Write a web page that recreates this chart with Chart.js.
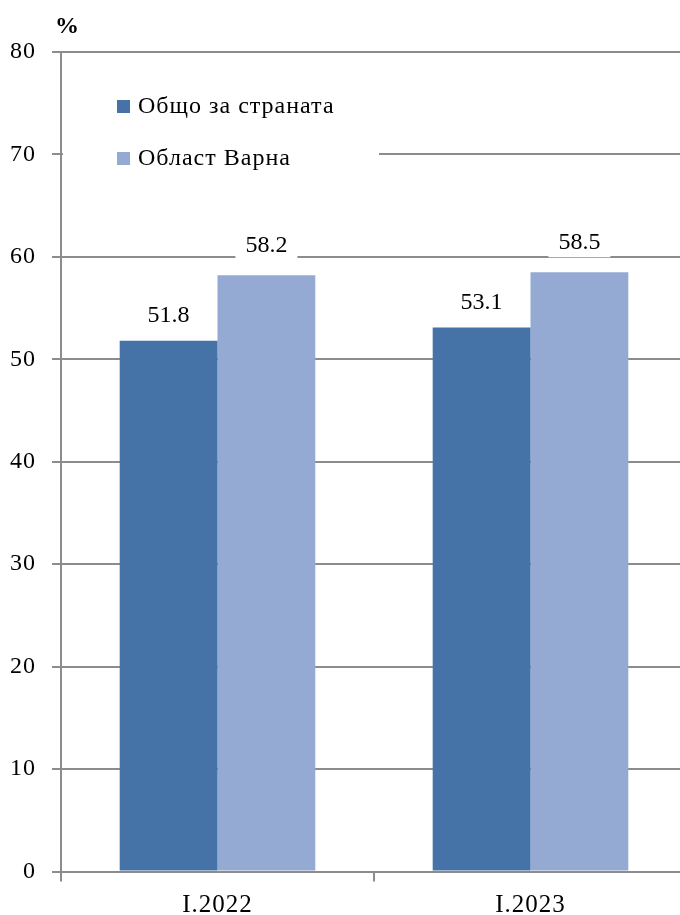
<!DOCTYPE html>
<html>
<head>
    <title>Bar</title>
    <script src="https://cdn.jsdelivr.net/npm/chart.js@4.4.0/dist/chart.umd.min.js"></script>
    <style>
        html, body { margin: 0; padding: 0; background: #fff; overflow: hidden; }
        #wrap { position: relative; width: 688px; height: 915px; }
        #unit { position: absolute; left: 55px; top: 12px; font: bold 24px "Liberation Serif", serif; }
    </style>
</head>
<body>
    <div id="wrap">
        <canvas id="myChart" width="688" height="915"></canvas>
        <div id="unit">%</div>
    </div>
    <script>
        var labels = ['I.2022', 'I.2023'];
        var country = [51.8, 53.1];
        var varna = [58.2, 58.5];
        var seriesNames = ['Общо за страната', 'Област Варна'];
        var yTicks = [0, 10, 20, 30, 40, 50, 60, 70, 80];

        var gridColor = '#8c8c8c';
        var serif = '"Liberation Serif", "Times New Roman", serif';

        // axis text a bit wider, like the original
        var spacing = {
            id: 'spacing',
            beforeDraw: function (chart) { chart.ctx.letterSpacing = '1px'; },
            beforeDatasetsDraw: function (chart) { chart.ctx.letterSpacing = '0px'; }
        };

        // value labels with white box over gridlines
        var valueLabels = {
            id: 'valueLabels',
            afterDatasetsDraw: function (chart) {
                var ctx = chart.ctx;
                ctx.save();
                ctx.font = '24px ' + serif;
                ctx.textAlign = 'center';
                ctx.textBaseline = 'middle';
                chart.data.datasets.forEach(function (ds, di) {
                    var meta = chart.getDatasetMeta(di);
                    var off = di == 0 ? 25 : 30;
                    meta.data.forEach(function (bar, i) {
                        var txt = ds.data[i].toFixed(1);
                        var w = ctx.measureText(txt).width + 20;
                        var y = bar.y - off;
                        ctx.fillStyle = '#fff';
                        ctx.fillRect(bar.x - w / 2, y - 15, w, 30);
                        ctx.fillStyle = '#000';
                        ctx.fillText(txt, bar.x, y);
                    });
                });
                ctx.restore();
            }
        };

        // legend inside the plot
        var innerLegend = {
            id: 'innerLegend',
            afterDraw: function (chart) {
                var ctx = chart.ctx;
                var a = chart.chartArea;
                ctx.save();
                ctx.fillStyle = '#fff';
                ctx.fillRect(a.left + 2, a.top + 25, 316, 110);
                ctx.font = '24px ' + serif;
                ctx.letterSpacing = '1px';
                ctx.textBaseline = 'middle';
                chart.data.datasets.forEach(function (ds, i) {
                    var y = a.top + 54 + i * 52;
                    ctx.fillStyle = ds.backgroundColor;
                    ctx.fillRect(117, y - 6, 13, 13);
                    ctx.fillStyle = '#000';
                    ctx.fillText(ds.label, 138, y + 1);
                });
                ctx.restore();
            }
        };

        var ctx = document.getElementById('myChart').getContext('2d');
        var chart = new Chart(ctx, {
            type: 'bar',
            data: {
                labels: labels,
                datasets: [{
                    label: seriesNames[0],
                    data: country,
                    backgroundColor: '#4573a7',
                    barPercentage: 1,
                    categoryPercentage: 0.625
                }, {
                    label: seriesNames[1],
                    data: varna,
                    backgroundColor: '#95aad2',
                    barPercentage: 1,
                    categoryPercentage: 0.625
                }]
            },
            options: {
                responsive: false,
                animation: false,
                layout: { padding: { top: 52, right: 1, left: 0, bottom: 0 } },
                plugins: {
                    legend: { display: false },
                    tooltip: { enabled: false }
                },
                scales: {
                    x: {
                        grid: { display: true, drawOnChartArea: false, drawTicks: true, tickLength: 10, offset: true, color: gridColor, lineWidth: 2 },
                        border: { color: gridColor, width: 2 },
                        ticks: { color: '#000', font: { family: serif, size: 25 }, padding: 9 },
                        afterFit: function (s) { s.height = 43.5; }
                    },
                    y: {
                        min: 0,
                        max: 80,
                        afterBuildTicks: function (s) { s.ticks = yTicks.map(function (v) { return { value: v }; }); },
                        grid: { color: gridColor, lineWidth: 2, tickLength: 9 },
                        border: { color: gridColor, width: 2 },
                        ticks: { color: '#000', font: { family: serif, size: 24 }, padding: 16 },
                        afterFit: function (s) { s.width = 61; }
                    }
                }
            },
            plugins: [spacing, valueLabels, innerLegend]
        });
    </script>
</body>
</html>
